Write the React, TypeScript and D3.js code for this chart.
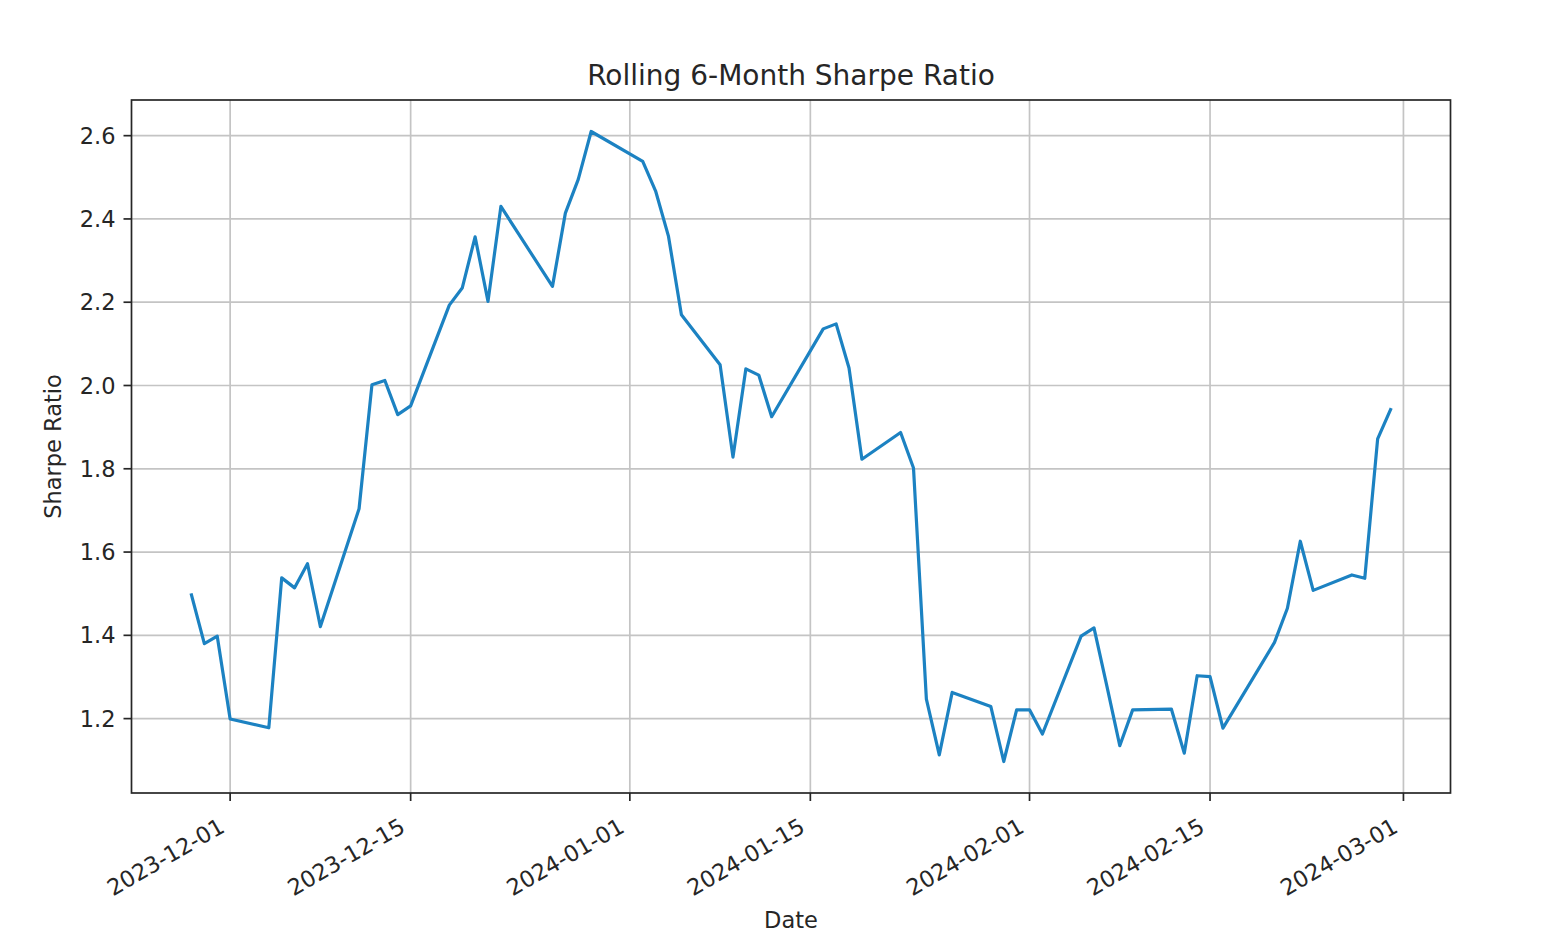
import React from "react";
import * as d3 from "d3";

const dates: string[] = [
  "2023-11-28", "2023-11-29", "2023-11-30", "2023-12-01",
  "2023-12-04", "2023-12-05", "2023-12-06", "2023-12-07", "2023-12-08",
  "2023-12-11", "2023-12-12", "2023-12-13", "2023-12-14", "2023-12-15",
  "2023-12-18", "2023-12-19", "2023-12-20", "2023-12-21", "2023-12-22",
  "2023-12-26", "2023-12-27", "2023-12-28", "2023-12-29",
  "2024-01-02", "2024-01-03", "2024-01-04", "2024-01-05",
  "2024-01-08", "2024-01-09", "2024-01-10", "2024-01-11", "2024-01-12",
  "2024-01-16", "2024-01-17", "2024-01-18", "2024-01-19",
  "2024-01-22", "2024-01-23", "2024-01-24", "2024-01-25", "2024-01-26",
  "2024-01-29", "2024-01-30", "2024-01-31", "2024-02-01", "2024-02-02",
  "2024-02-05", "2024-02-06", "2024-02-07", "2024-02-08", "2024-02-09",
  "2024-02-12", "2024-02-13", "2024-02-14", "2024-02-15", "2024-02-16",
  "2024-02-20", "2024-02-21", "2024-02-22", "2024-02-23",
  "2024-02-26", "2024-02-27", "2024-02-28", "2024-02-29",
];

const sharpe: number[] = [
  1.497, 1.38, 1.398, 1.199,
  1.178, 1.538, 1.514, 1.572, 1.421,
  1.704, 2.002, 2.012, 1.93, 1.951,
  2.193, 2.234, 2.357, 2.202, 2.43,
  2.238, 2.414, 2.495, 2.61,
  2.538, 2.467, 2.358, 2.17,
  2.05, 1.828, 2.04, 2.025, 1.925,
  2.136, 2.148, 2.042, 1.823,
  1.887, 1.802, 1.247, 1.113, 1.263,
  1.229, 1.097, 1.221, 1.221, 1.163,
  1.398, 1.418, 1.278, 1.135, 1.221,
  1.223, 1.117, 1.303, 1.301, 1.177,
  1.383, 1.465, 1.626, 1.508,
  1.545, 1.537, 1.872, 1.942,
];

const xTickLabels: string[] = [
  "2023-12-01", "2023-12-15", "2024-01-01", "2024-01-15",
  "2024-02-01", "2024-02-15", "2024-03-01",
];

const yTickValues: number[] = [1.2, 1.4, 1.6, 1.8, 2.0, 2.2, 2.4, 2.6];

const TITLE = "Rolling 6-Month Sharpe Ratio";
const X_LABEL = "Date";
const Y_LABEL = "Sharpe Ratio";

const W = 1546;
const H = 942;
const M = { left: 131.5, right: 1450.5, top: 100, bottom: 793 };
const FONT = "'DejaVu Sans', sans-serif";
const LINE_COLOR = "#1c82c2";

export default function App() {
  const parse = d3.utcParse("%Y-%m-%d");
  const data = dates.map((d, i) => ({ date: parse(d) as Date, value: sharpe[i] }));

  const [dMin, dMax] = d3.extent(data, (d) => d.date) as [Date, Date];
  const span = dMax.getTime() - dMin.getTime();
  const x = d3
    .scaleUtc()
    .domain([new Date(dMin.getTime() - span * 0.05), new Date(dMax.getTime() + span * 0.05)])
    .range([M.left, M.right]);

  const [vMin, vMax] = d3.extent(sharpe) as [number, number];
  const vPad = (vMax - vMin) * 0.05;
  const y = d3.scaleLinear().domain([vMin - vPad, vMax + vPad]).range([M.bottom, M.top]);

  const line = d3
    .line<{ date: Date; value: number }>()
    .x((d) => x(d.date))
    .y((d) => y(d.value));

  const xTicks = xTickLabels.map((t) => ({ label: t, x: x(parse(t) as Date) }));
  const fmt = d3.format(".1f");

  return (
    <svg
      width={W}
      height={H}
      style={{ position: "absolute", left: 0, top: 0, background: "#fff" }}
      fontFamily={FONT}
    >
      <rect x={0} y={0} width={W} height={H} fill="#fff" />
      {/* grid */}
      <g stroke="#c4c4c4" strokeWidth={1.7}>
        {xTicks.map((t) => (
          <line key={"gx" + t.label} x1={t.x} x2={t.x} y1={M.top} y2={M.bottom} />
        ))}
        {yTickValues.map((v) => (
          <line key={"gy" + v} x1={M.left} x2={M.right} y1={y(v)} y2={y(v)} />
        ))}
      </g>
      {/* line */}
      <path
        d={line(data) || ""}
        fill="none"
        stroke={LINE_COLOR}
        strokeWidth={3.2}
        strokeLinejoin="round"
        strokeLinecap="square"
      />
      {/* spines */}
      <rect
        x={M.left}
        y={M.top}
        width={M.right - M.left}
        height={M.bottom - M.top}
        fill="none"
        stroke="#262626"
        strokeWidth={1.7}
      />
      {/* y ticks */}
      <g fill="#262626" fontSize={22.5}>
        {yTickValues.map((v) => (
          <g key={"yt" + v}>
            <line x1={M.left - 8} x2={M.left} y1={y(v)} y2={y(v)} stroke="#262626" strokeWidth={1.7} />
            <text x={M.left - 16} y={y(v)} dy="0.36em" textAnchor="end">
              {fmt(v)}
            </text>
          </g>
        ))}
      </g>
      {/* x ticks */}
      <g fill="#262626" fontSize={22.5}>
        {xTicks.map((t) => (
          <g key={"xt" + t.label}>
            <line x1={t.x} x2={t.x} y1={M.bottom} y2={M.bottom + 8} stroke="#262626" strokeWidth={1.7} />
            <text
              transform={`translate(${t.x - 4},${M.bottom + 38}) rotate(-30)`}
              textAnchor="end"
            >
              {t.label}
            </text>
          </g>
        ))}
      </g>
      {/* labels */}
      <text x={(M.left + M.right) / 2} y={85} textAnchor="middle" fontSize={28} fill="#262626">
        {TITLE}
      </text>
      <text x={(M.left + M.right) / 2} y={928} textAnchor="middle" fontSize={22.5} fill="#262626">
        {X_LABEL}
      </text>
      <text
        transform={`translate(60.5,${(M.top + M.bottom) / 2}) rotate(-90)`}
        textAnchor="middle"
        fontSize={22.5}
        fill="#262626"
      >
        {Y_LABEL}
      </text>
    </svg>
  );
}
